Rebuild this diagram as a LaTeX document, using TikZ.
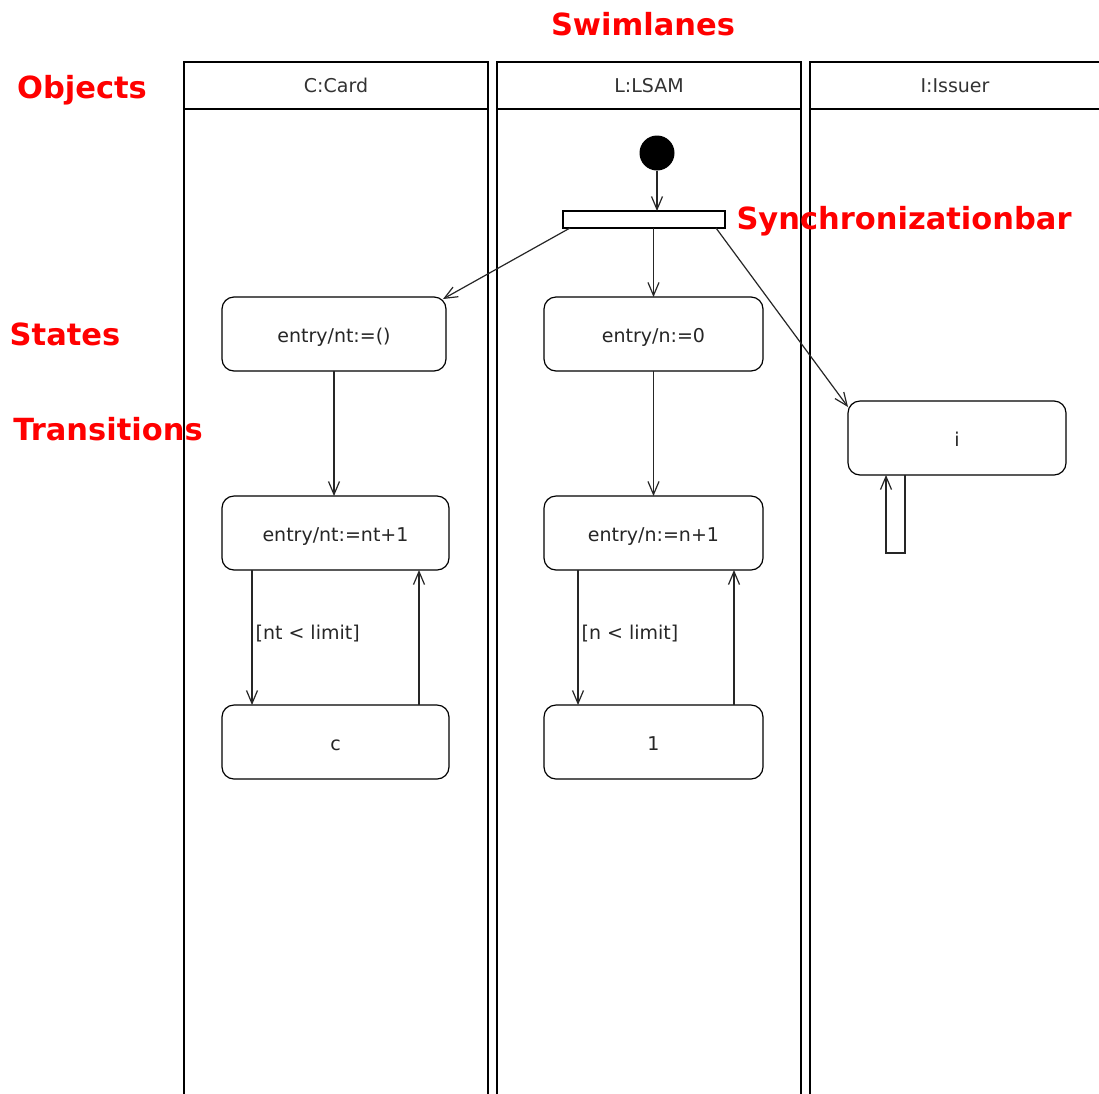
\documentclass[tikz,border=0pt]{standalone}
\usepackage{fontspec}
\setmainfont{DejaVu Sans}
\usetikzlibrary{arrows.meta}
\begin{document}
\begin{tikzpicture}[x=1pt,y=-1pt,
  lanehead/.style={draw, line width=1.6pt, outer sep=0pt, minimum height=47pt, inner sep=0pt, font=\fontsize{19}{22}\selectfont, text=black!80, text height=17pt, text depth=3pt},
  lane/.style={line width=1.6pt},
  statebox/.style={draw, line width=1.2pt, outer sep=0pt, rounded corners=12pt, minimum height=74pt, inner sep=0pt, font=\fontsize{19}{22}\selectfont, text=black!85, text height=18pt, text depth=2pt},
  arr/.style={line width=1.2pt, black!85, -{Straight Barb[length=13pt,width=11pt,line width=1.2pt]}},
  redlab/.style={text=red, font=\fontsize{30.5}{36}\selectfont\bfseries, inner sep=0pt},
  guard/.style={font=\fontsize{19}{22}\selectfont, text=black!85, inner sep=3pt}
]
\clip (0,0) rectangle (1099,1093);
\fill[white] (0,0) rectangle (1099,1093);

% swimlanes
\node[lanehead, minimum width=304pt] (h1) at (336,85.5) {C:Card};
\node[lanehead, minimum width=304pt] (h2) at (649,85.5) {L:LSAM};
\node[lanehead, minimum width=300pt] (h3) at (960,85.5) {};
\node[font=\fontsize{19}{22}\selectfont, text=black!80, text height=17pt, text depth=3pt] (h3t) at (955,85.5) {I:Issuer};
\draw[lane] (h1.south west) -- ++(0,1000);
\draw[lane] (h1.south east) -- ++(0,1000);
\draw[lane] (h2.south west) -- ++(0,1000);
\draw[lane] (h2.south east) -- ++(0,1000);
\draw[lane] (h3.south west) -- ++(0,1000);

% initial node and bar
\node[circle, fill=black, minimum size=35pt, inner sep=0pt, outer sep=0pt] (init) at (657,153) {};
\node[draw, line width=1.3pt, outer sep=0pt, minimum width=162pt, minimum height=17pt, inner sep=0pt] (bar) at (644,219.5) {};

% states
\node[statebox, minimum width=224pt] (S1) at (334,334) {entry/nt:=()};
\node[statebox, minimum width=219pt] (S2) at (653.5,334) {entry/n:=0};
\node[statebox, minimum width=218pt] (S3) at (957,438) {i};
\node[statebox, minimum width=227pt] (S4) at (335.5,533) {entry/nt:=nt+1};
\node[statebox, minimum width=219pt] (S5) at (653.5,533) {entry/n:=n+1};
\node[statebox, minimum width=227pt] (S6) at (335.5,742) {c};
\node[statebox, minimum width=219pt] (S7) at (653.5,742) {1};

% transitions
\draw[arr] (init.south) -- (init.south |- bar.north);
\draw[arr] ([xshift=7pt]bar.south west) -- ([xshift=-3pt,yshift=-2pt]S1.north east);
\draw[arr] (bar.south -| S2.north) -- (S2.north);
\draw[arr] ([xshift=-9pt]bar.south east) -- ([yshift=-6pt]S3.north west);
\draw[arr] (S1.south) -- (S1.south |- S4.north);
\draw[arr] (S2.south) -- (S5.north);
\draw[arr] ([xshift=-83.5pt]S4.south) -- node[guard, right, yshift=4pt] (g1) {[nt < limit]} ([xshift=-83.5pt]S6.north);
\draw[arr] ([xshift=83.5pt]S6.north) -- ([xshift=83.5pt]S4.south);
\draw[arr] ([xshift=-75.5pt]S5.south) -- node[guard, right, yshift=4pt] (g2) {[n < limit]} ([xshift=-75.5pt]S7.north);
\draw[arr] ([xshift=80.5pt]S7.north) -- ([xshift=80.5pt]S5.south);
\draw[arr] ([xshift=-52pt]S3.south) -- ++(0,78) -- ++(-19,0) -- ([xshift=-71pt]S3.south);

% red annotations
\node[redlab] (lswim) at (643,24) {Swimlanes};
\node[redlab] (lobj) at (82,90) {Objects};
\node[redlab] (lstates) at (65,334) {States};
\node[redlab] (ltrans) at (108,429) {Transitions};
\node[redlab] (lsync) at (904,221) {Synchronizationbar};
\end{tikzpicture}
\end{document}
